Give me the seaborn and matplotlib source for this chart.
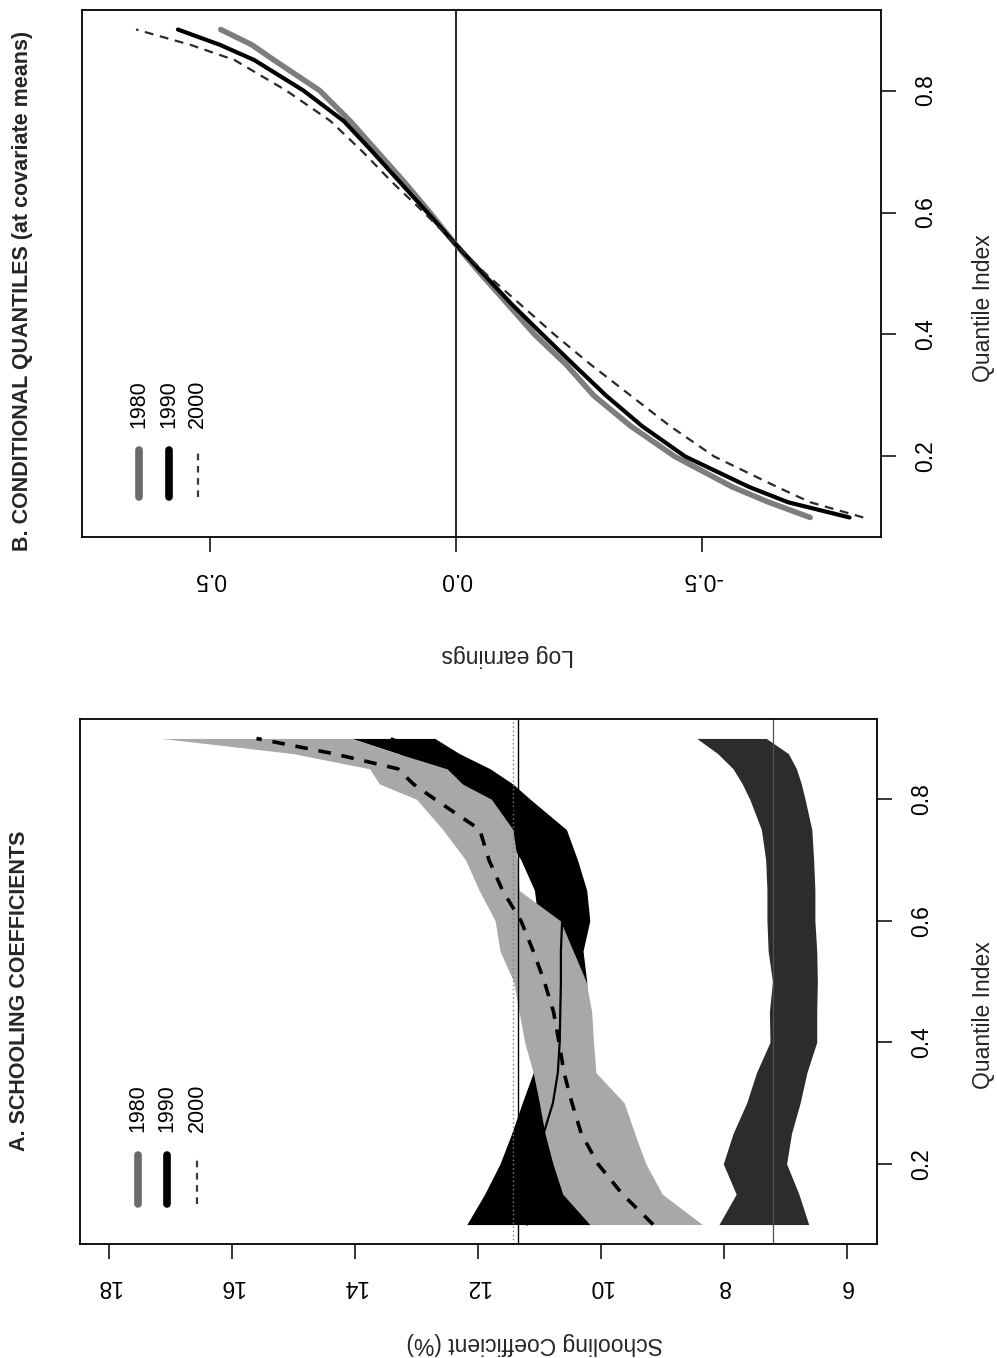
import matplotlib
matplotlib.use('Agg')
import numpy as np
import pandas as pd
import matplotlib.pyplot as plt
import seaborn as sns

sns.set_theme(style='white')
plt.rcParams['font.family'] = ['Liberation Sans', 'DejaVu Sans']

# ---------------- Panel A: schooling coefficients (%) ----------------
QA = [0.10, 0.15, 0.20, 0.25, 0.30, 0.35, 0.40, 0.45, 0.50, 0.55, 0.60,
      0.65, 0.70, 0.75, 0.80, 0.825, 0.85, 0.875, 0.90]

up1980 = [8.08, 7.80, 8.01, 7.85, 7.63, 7.47, 7.25, 7.26, 7.21, 7.28, 7.30,
          7.30, 7.32, 7.39, 7.58, 7.70, 7.85, 8.10, 8.44]
lo1980 = [6.62, 6.78, 6.98, 6.90, 6.76, 6.65, 6.49, 6.49, 6.48, 6.49, 6.52,
          6.52, 6.54, 6.57, 6.68, 6.74, 6.82, 6.95, 7.31]

up1990 = [12.18, 11.89, 11.64, 11.45, 11.28, 11.10, 11.05, 11.05, 11.07, 11.08, 11.02,
          11.08, 11.30, 11.60, 12.20, 12.50, 12.67, 13.30, 14.05]
lo1990 = [10.13, 10.40, 10.55, 10.62, 10.65, 10.60, 10.40, 10.22, 10.23, 10.29, 10.18,
          10.23, 10.38, 10.56, 11.15, 11.43, 11.80, 12.30, 12.70]
ce1990 = [11.20, 11.20, 11.10, 10.93, 10.78, 10.70, 10.67, 10.66, 10.65, 10.65, 10.63,
          10.68, 10.85, 11.10, 11.65, 11.95, 12.25, 12.80, 13.40]

up2000 = [10.18, 10.62, 10.78, 10.91, 11.00, 11.10, 11.24, 11.33, 11.42, 11.64, 11.72,
          11.98, 12.20, 12.57, 13.00, 13.60, 13.76, 15.00, 17.14]
lo2000 = [8.35, 9.00, 9.27, 9.45, 9.62, 10.08, 10.12, 10.15, 10.24, 10.45, 10.66,
          11.33, 11.36, 11.43, 11.78, 12.25, 12.50, 13.30, 14.05]
ce2000 = [9.15, 9.65, 10.05, 10.32, 10.47, 10.60, 10.68, 10.77, 10.92, 11.10, 11.30,
          11.60, 11.82, 11.97, 12.70, 13.05, 13.30, 14.35, 15.60]

ols1980 = 7.20
ols1990 = 11.35
ols2000 = 11.43

# ---------------- Panel B: conditional quantiles (log earnings) ----------------
QB = [0.10, 0.125, 0.15, 0.20, 0.25, 0.30, 0.35, 0.40, 0.45, 0.50, 0.55,
      0.60, 0.65, 0.70, 0.75, 0.80, 0.85, 0.875, 0.90]
le1980 = [-0.72, -0.636, -0.562, -0.445, -0.355, -0.28, -0.225, -0.16, -0.105, -0.05, 0.003,
          0.053, 0.105, 0.16, 0.215, 0.277, 0.37, 0.415, 0.478]
le1990 = [-0.80, -0.675, -0.596, -0.466, -0.378, -0.305, -0.24, -0.176, -0.113, -0.055, 0.003,
          0.058, 0.114, 0.17, 0.228, 0.31, 0.41, 0.48, 0.565]
le2000 = [-0.828, -0.72, -0.653, -0.525, -0.435, -0.355, -0.275, -0.20, -0.13, -0.06, 0.003,
          0.065, 0.13, 0.19, 0.255, 0.345, 0.45, 0.54, 0.65]

years = ['1980', '1990', '2000']
xticksA = [6, 8, 10, 12, 14, 16, 18]
xticksB = [-0.5, 0.0, 0.5]
xticklabB = ['-0.5', '0.0', '0.5']
qticks = [0.2, 0.4, 0.6, 0.8]

W, H = 997, 1358
fig = plt.figure(figsize=(W / 100, H / 100), dpi=100)
fig.patch.set_facecolor('white')

axB = fig.add_axes([82 / W, 1 - 537 / H, 799 / W, 527 / H])
axA = fig.add_axes([80 / W, 1 - 1244 / H, 797 / W, 525 / H])

# ---- Panel A ----
axA.fill_betweenx(QA, lo1990, up1990, color='black', lw=0, zorder=1)
axA.fill_betweenx(QA, lo1980, up1980, color='#2c2c2c', lw=0, zorder=1.5)
axA.fill_betweenx(QA, lo2000, up2000, color='#a8a8a8', lw=0, zorder=2)
axA.axvline(ols1990, color='black', lw=1.0, zorder=2.5)
axA.axvline(ols2000, color='#808080', lw=1.0, ls=(0, (1, 2)), zorder=2.5)
axA.axvline(ols1980, color='#505050', lw=0.9, zorder=2.5)
sns.lineplot(x=ce2000, y=QA, orient='y', estimator=None, sort=True, ax=axA,
             color='black', lw=2.6, linestyle=(0, (3.5, 3)), zorder=3)
sns.lineplot(x=ce1990, y=QA, orient='y', estimator=None, sort=True, ax=axA,
             color='black', lw=1.6, zorder=3)

# ---- Panel B ----
axB.axvline(0.0, color='black', lw=1.2, zorder=1)
sns.lineplot(x=le1980, y=QB, orient='y', estimator=None, ax=axB,
             color='#7d7d7d', lw=4.0, zorder=2)
sns.lineplot(x=le1990, y=QB, orient='y', estimator=None, ax=axB,
             color='black', lw=3.0, zorder=3)
sns.lineplot(x=le2000, y=QB, orient='y', estimator=None, ax=axB,
             color='#2a2a2a', lw=1.6, linestyle=(0, (4, 3)), zorder=4)

for ax in (axA, axB):
    ax.set_ylim(0.068, 0.932)
    ax.set_xlabel('')
    ax.set_ylabel('')
    for s in ax.spines.values():
        s.set_visible(True)
        s.set_color('black')
        s.set_linewidth(1.3)
    ax.yaxis.tick_right()
    ax.set_yticks(qticks)
    ax.set_yticklabels([f'{t:.1f}' for t in qticks])
    ax.tick_params(axis='y', right=True, left=False, direction='out', length=11,
                   width=1.1, labelsize=16.5, labelrotation=90, pad=13, colors='black')
    for lab in ax.get_yticklabels():
        lab.set_va('center')
    ax.tick_params(axis='x', bottom=True, direction='out', length=11, width=1.1,
                   labelsize=16.5, labelrotation=180, pad=11, colors='black')
    ax.grid(False)
    ax.set_facecolor('white')

axA.set_xlim(18.47, 5.51)
axA.set_xticks(xticksA)
axA.set_xticklabels([str(t) for t in xticksA])

axB.set_xlim(0.760, -0.864)
axB.set_xticks(xticksB)
axB.set_xticklabels(xticklabB)

# ---- legends (drawn as keys in axes coordinates) ----
def draw_legend(ax, xs, y0, y1, ty):
    styles = [dict(color='#6a6a6a', lw=5.5, solid_capstyle='round'),
              dict(color='black', lw=5.5, solid_capstyle='round'),
              dict(color='#3a3a3a', lw=1.6, ls=(0, (3, 2.5)))]
    for x, yr, st in zip(xs, years, styles):
        ax.plot([x, x], [y0, y1], transform=ax.transAxes, clip_on=False, **st)
        ax.text(x, ty, yr, transform=ax.transAxes, rotation=90, ha='center',
                va='bottom', fontsize=15.5, color='black')

draw_legend(axA, [0.0728, 0.109, 0.147], 0.076, 0.170, 0.213)
draw_legend(axB, [0.0713, 0.109, 0.145], 0.076, 0.166, 0.207)

# ---- titles and axis labels (rotated page) ----
fig.text(20 / W, 1 - 991 / H, 'A. SCHOOLING COEFFICIENTS', rotation=90,
         ha='center', va='center', fontsize=15.5, fontweight='bold')
fig.text(23 / W, 1 - 291 / H, 'B. CONDITIONAL QUANTILES (at covariate means)', rotation=90,
         ha='center', va='center', fontsize=15.5, fontweight='bold')
fig.text(535 / W, 1 - 1344 / H, 'Schooling Coefficient (%)', rotation=180,
         ha='center', va='center', fontsize=16.5)
fig.text(508 / W, 1 - 655 / H, 'Log earnings', rotation=180,
         ha='center', va='center', fontsize=16.5)
fig.text(983 / W, 1 - 1015 / H, 'Quantile Index', rotation=90,
         ha='center', va='center', fontsize=16.5)
fig.text(983 / W, 1 - 308 / H, 'Quantile Index', rotation=90,
         ha='center', va='center', fontsize=16.5)

fig.savefig('out.png', dpi=100, facecolor='white')
